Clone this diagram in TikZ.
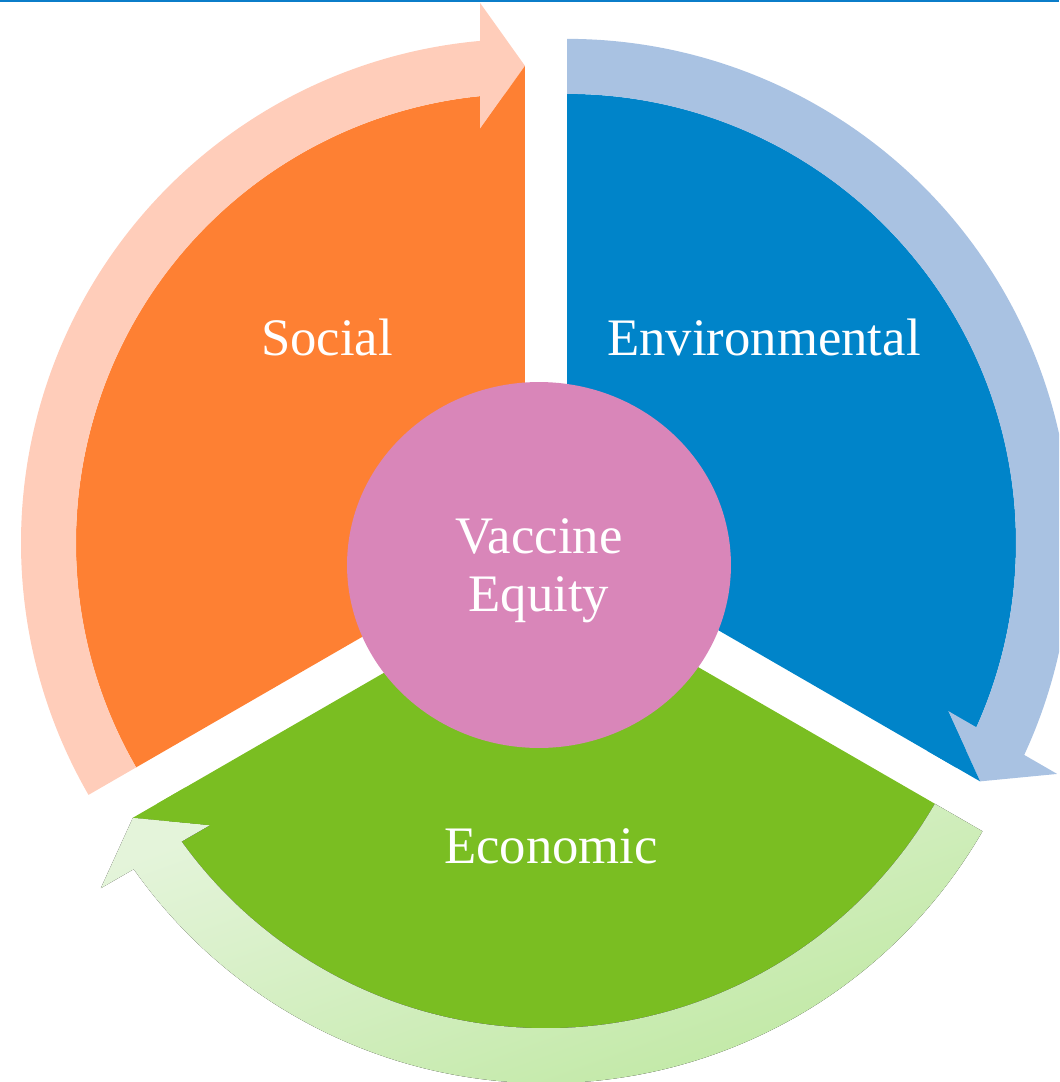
\documentclass[tikz,border=0pt]{standalone}
\usepackage{fontspec}
\setmainfont{Liberation Serif}
\usetikzlibrary{shapes.geometric}

\definecolor{socialc}{HTML}{FE8033}
\definecolor{envc}{HTML}{0084C9}
\definecolor{econc}{HTML}{7ABE22}
\definecolor{equityc}{HTML}{D986B9}
\definecolor{socialarr}{HTML}{FFCDBA}
\definecolor{envarr}{HTML}{A9C2E2}
\definecolor{econarrlt}{HTML}{E4F4DA}
\definecolor{econarrdk}{HTML}{BFE8A2}
\definecolor{topline}{HTML}{0B7DC9}

\begin{document}
\begin{tikzpicture}[x=0.02cm, y=0.02cm,
    lbl/.style={text=white, font=\fontsize{30}{33}\selectfont, inner sep=0}]

    % Frame, 1 unit = 1 px
    \useasboundingbox (-546,-527) rectangle (513,555);
    \clip (-546,-527) rectangle (513,555);
    \fill[topline] (-546,552.5) rectangle (513,555);

    % Radii
    \def\r{449}   % segment
    \def\ro{504}  % outer edge of arrow
    \def\rt{477}  % arrow tip

    % Segment centres (pulled apart)
    \coordinate (cs) at (150:24.25);
    \coordinate (cv) at (30:24.25);
    \coordinate (cc) at (270:24.25);

    % Social
    \begin{scope}[shift={(cs)}]
        \fill[socialc] (0,0) -- (210:\r) arc[start angle=210, end angle=90, radius=\r] -- cycle;
        \fill[socialarr] (210:\ro) arc[start angle=210, end angle=95.12, radius=\ro] -- (94.76:541.9) -- (90:\rt)
            -- (96.2:416.4) -- (95.75:\r) arc[start angle=95.75, end angle=210, radius=\r] -- cycle;
        \fill[socialc] (90:\rt) -- (96.2:416.4) -- (90:416.4) -- cycle;
    \end{scope}

    % Environmental
    \begin{scope}[shift={(cv)}]
        \fill[envc] (0,0) -- (90:\r) arc[start angle=90, end angle=-30, radius=\r] -- cycle;
        \fill[envarr] (90:\ro) arc[start angle=90, end angle=-24.88, radius=\ro] -- (-25.24:541.9) -- (-30:\rt)
            -- (-23.8:416.4) -- (-24.25:\r) arc[start angle=-24.25, end angle=90, radius=\r] -- cycle;
        \fill[envc] (-30:\rt) -- (-23.8:416.4) -- (-30:416.4) -- cycle;
    \end{scope}

    % Economic
    \begin{scope}[shift={(cc)}]
        \fill[econc] (0,0) -- (330:\r) arc[start angle=330, end angle=210, radius=\r] -- cycle;
        \fill[top color=econarrlt, bottom color=econarrdk, shading angle=20]
            (330:\ro) arc[start angle=330, end angle=215.12, radius=\ro] -- (214.76:541.9) -- (210:\rt)
            -- (216.2:416.4) -- (215.75:\r) arc[start angle=215.75, end angle=330, radius=\r] -- cycle;
        \fill[econc] (210:\rt) -- (216.2:416.4) -- (210:416.4) -- cycle;
    \end{scope}

    % Centre
    \node[ellipse, fill=equityc, minimum width=7.68cm, minimum height=7.32cm, inner sep=0] (equity) at (-7,-10) {};
    \node[lbl, align=center] (equitytxt) at (-7,-16) {Vaccine\\Equity};

    % Labels
    \node[lbl, anchor=base] (social) at (-219,199) {Social};
    \node[lbl, anchor=base] (env) at (218,199) {Environmental};
    \node[lbl, anchor=base] (econ) at (5,-308) {Economic};

\end{tikzpicture}
\end{document}
